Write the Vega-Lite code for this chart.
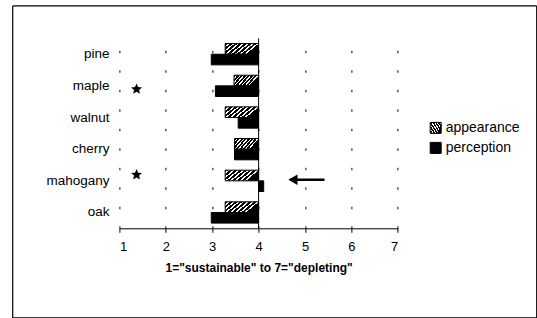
{
  "$schema": "https://vega.github.io/schema/vega-lite/v6.json",
  "width": 278.4,
  "height": 189.9,
  "autosize": {"type": "pad"},
  "padding": {"left": 11.4, "top": 4.4, "right": 0, "bottom": 0},
  "background": "white",
  "config": {
    "view": {"stroke": null},
    "font": "Liberation Sans",
    "axis": {"labelColor": "black", "titleColor": "black", "labelFont": "Liberation Sans", "titleFont": "Liberation Sans"},
    "legend": {"labelColor": "black", "labelFont": "Liberation Sans"}
  },
  "datasets": {
    "ratings": [
      {"wood": "pine", "series": "appearance", "value": 3.28},
      {"wood": "pine", "series": "perception", "value": 2.98},
      {"wood": "maple", "series": "appearance", "value": 3.47},
      {"wood": "maple", "series": "perception", "value": 3.07},
      {"wood": "walnut", "series": "appearance", "value": 3.28},
      {"wood": "walnut", "series": "perception", "value": 3.56},
      {"wood": "cherry", "series": "appearance", "value": 3.48},
      {"wood": "cherry", "series": "perception", "value": 3.48},
      {"wood": "mahogany", "series": "appearance", "value": 3.28},
      {"wood": "mahogany", "series": "perception", "value": 4.11},
      {"wood": "oak", "series": "appearance", "value": 3.28},
      {"wood": "oak", "series": "perception", "value": 2.98}
    ],
    "stars": [
      {"wood": "maple", "value": 1.37},
      {"wood": "mahogany", "value": 1.37}
    ],
    "frame": [{"k": 1}]
  },
  "layer": [
    {
      "data": {"name": "frame"},
      "mark": {"type": "rule", "color": "black", "strokeWidth": 1.2},
      "encoding": {
        "x": {"datum": -1.2996, "type": "quantitative"},
        "x2": {"datum": 9.994},
        "y": {"datum": "pine", "type": "nominal", "bandPosition": -1.769}
      }
    },
    {
      "data": {"name": "frame"},
      "mark": {"type": "rule", "color": "black", "strokeWidth": 1.2},
      "encoding": {
        "x": {"datum": -1.2996, "type": "quantitative"},
        "x2": {"datum": 9.994},
        "y": {"datum": "oak", "type": "nominal", "bandPosition": 5.449}
      }
    },
    {
      "data": {"name": "frame"},
      "mark": {"type": "rule", "color": "black", "strokeWidth": 1.2},
      "encoding": {
        "x": {"datum": -1.2996, "type": "quantitative"},
        "y": {"datum": "pine", "type": "nominal", "bandPosition": -1.769},
        "y2": {"datum": "oak", "bandPosition": 5.449}
      }
    },
    {
      "data": {"name": "frame"},
      "mark": {"type": "rule", "color": "black", "strokeWidth": 1.2},
      "encoding": {
        "x": {"datum": 9.994, "type": "quantitative"},
        "y": {"datum": "pine", "type": "nominal", "bandPosition": -1.769},
        "y2": {"datum": "oak", "bandPosition": 5.449}
      }
    },
    {
      "data": {"name": "ratings"},
      "mark": {"type": "bar", "stroke": "black", "strokeWidth": 1},
      "encoding": {
        "y": {
          "field": "wood", "type": "nominal",
          "scale": {"domain": ["pine", "maple", "walnut", "cherry", "mahogany", "oak"], "paddingInner": 0.327, "paddingOuter": 0.1635, "align": 0.5},
          "axis": {"orient": "left", "domain": false, "ticks": false, "labelPadding": 10.4, "labelFontSize": 13.5, "title": null, "grid": false}
        },
        "yOffset": {"field": "series", "type": "nominal", "scale": {"paddingInner": 0, "paddingOuter": 0}},
        "x": {
          "field": "value", "type": "quantitative",
          "scale": {"domain": [1, 7], "nice": false, "zero": false},
          "axis": {
            "orient": "bottom", "values": [1, 2, 3, 4, 5, 6, 7], "format": "d",
            "domain": true, "domainColor": "black", "domainWidth": 1,
            "grid": true, "gridColor": "black", "gridDash": [2.5, 17], "gridWidth": 1,
            "ticks": true, "tickSize": 4, "tickColor": "black",
            "labelPadding": 8, "labelFontSize": 13,
            "title": "1=\"sustainable\" to 7=\"depleting\"", "titleFontSize": 12, "titleFontWeight": "bold", "titlePadding": 9
          }
        },
        "x2": {"datum": 4},
        "fill": {
          "field": "series", "type": "nominal",
          "scale": {
            "domain": ["appearance", "perception"],
            "range": [
              {"expr": "{gradient:'linear', x1:0, y1:0, x2:1, y2:0.38, stops:[{offset:0,color:'#000'},{offset:0.075,color:'#000'},{offset:0.075,color:'#fff'},{offset:0.125,color:'#fff'},{offset:0.125,color:'#000'},{offset:0.2,color:'#000'},{offset:0.2,color:'#fff'},{offset:0.25,color:'#fff'},{offset:0.25,color:'#000'},{offset:0.325,color:'#000'},{offset:0.325,color:'#fff'},{offset:0.375,color:'#fff'},{offset:0.375,color:'#000'},{offset:0.45,color:'#000'},{offset:0.45,color:'#fff'},{offset:0.5,color:'#fff'},{offset:0.5,color:'#000'},{offset:0.575,color:'#000'},{offset:0.575,color:'#fff'},{offset:0.625,color:'#fff'},{offset:0.625,color:'#000'},{offset:0.7,color:'#000'},{offset:0.7,color:'#fff'},{offset:0.75,color:'#fff'},{offset:0.75,color:'#000'},{offset:0.825,color:'#000'},{offset:0.825,color:'#fff'},{offset:0.875,color:'#fff'},{offset:0.875,color:'#000'},{offset:1,color:'#000'}]}"},
              "#000000"
            ]
          },
          "legend": {
            "orient": "none", "legendX": 309.3, "legendY": 82.5, "title": null,
            "symbolType": "square", "symbolSize": 121, "symbolStrokeColor": "black", "symbolStrokeWidth": 1,
            "labelFontSize": 14, "labelOffset": 3, "rowPadding": 4, "padding": 0
          }
        }
      }
    },
    {
      "data": {"name": "frame"},
      "mark": {"type": "rule", "color": "black", "strokeWidth": 1},
      "encoding": {
        "x": {"datum": 4, "type": "quantitative"}
      }
    },
    {
      "data": {"name": "stars"},
      "transform": [{"filter": "datum.wood === 'maple'"}],
      "mark": {"type": "point", "shape": "M0,-1L0.265,-0.364L0.951,-0.309L0.428,0.139L0.588,0.809L0,0.45L-0.588,0.809L-0.428,0.139L-0.951,-0.309L-0.265,-0.364Z", "filled": true, "color": "black", "opacity": 1, "size": 134},
      "encoding": {
        "x": {"field": "value", "type": "quantitative"},
        "y": {"field": "wood", "type": "nominal", "bandPosition": 0.655}
      }
    },
    {
      "data": {"name": "stars"},
      "transform": [{"filter": "datum.wood === 'mahogany'"}],
      "mark": {"type": "point", "shape": "M0,-1L0.265,-0.364L0.951,-0.309L0.428,0.139L0.588,0.809L0,0.45L-0.588,0.809L-0.428,0.139L-0.951,-0.309L-0.265,-0.364Z", "filled": true, "color": "black", "opacity": 1, "size": 134},
      "encoding": {
        "x": {"field": "value", "type": "quantitative"},
        "y": {"field": "wood", "type": "nominal", "bandPosition": 0.218}
      }
    },
    {
      "data": {"name": "frame"},
      "mark": {"type": "rule", "color": "black", "strokeWidth": 2.5},
      "encoding": {
        "x": {"datum": 4.68, "type": "quantitative"},
        "x2": {"datum": 5.42},
        "y": {"datum": "mahogany", "type": "nominal", "bandPosition": 0.45}
      }
    },
    {
      "data": {"name": "frame"},
      "mark": {"type": "point", "shape": "triangle-left", "filled": true, "color": "black", "opacity": 1, "size": 110},
      "encoding": {
        "x": {"datum": 4.74, "type": "quantitative"},
        "y": {"datum": "mahogany", "type": "nominal", "bandPosition": 0.45}
      }
    }
  ]
}
